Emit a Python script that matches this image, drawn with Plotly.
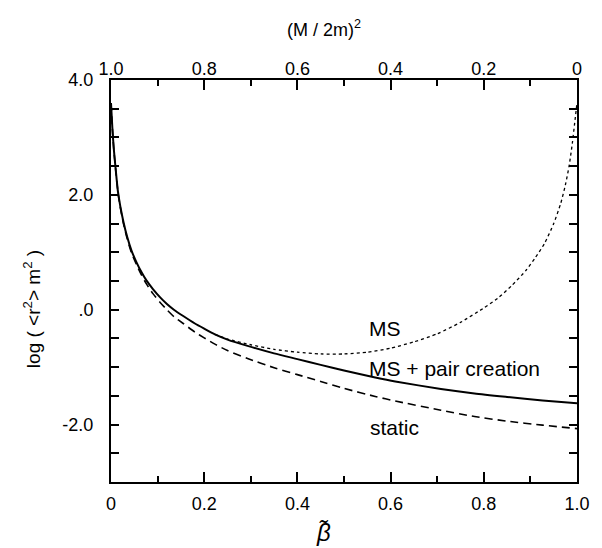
import plotly.graph_objects as go

# MS + pair creation (solid)
beta_pair = [0, 0.003, 0.006, 0.01, 0.015, 0.02, 0.027, 0.035, 0.044, 0.055, 0.065, 0.076, 0.09,
             0.105, 0.12, 0.135, 0.155, 0.18, 0.2, 0.223, 0.25, 0.293, 0.35, 0.4, 0.45, 0.5,
             0.567, 0.61, 0.708, 0.78, 0.85, 0.926, 1.0]
logr_pair = [3.6, 3.15, 2.8, 2.45, 2.05, 1.8, 1.52, 1.26, 1.03, 0.82, 0.66, 0.51, 0.36,
             0.22, 0.10, 0.0, -0.11, -0.24, -0.33, -0.43, -0.52, -0.63, -0.76, -0.86, -0.96, -1.06,
             -1.18, -1.25, -1.38, -1.46, -1.52, -1.58, -1.63]

# static (dashed)
beta_static = [0, 0.003, 0.006, 0.01, 0.015, 0.02, 0.027, 0.035, 0.044, 0.055, 0.065, 0.076, 0.09,
               0.105, 0.12, 0.135, 0.155, 0.18, 0.2, 0.223, 0.25, 0.293, 0.35, 0.4, 0.45, 0.5,
               0.567, 0.61, 0.708, 0.78, 0.85, 0.926, 1.0]
logr_static = [3.6, 3.15, 2.79, 2.44, 2.04, 1.78, 1.49, 1.23, 0.99, 0.78, 0.61, 0.45, 0.28,
               0.13, 0.0, -0.12, -0.24, -0.39, -0.49, -0.60, -0.71, -0.85, -1.01, -1.13, -1.25, -1.37,
               -1.51, -1.59, -1.75, -1.86, -1.94, -2.01, -2.07]

# MS (dotted)
beta_ms = [0.223, 0.25, 0.3, 0.35, 0.4, 0.45, 0.5, 0.55, 0.6, 0.65, 0.7, 0.75, 0.8, 0.83,
           0.86, 0.89, 0.91, 0.93, 0.95, 0.965, 0.975, 0.983, 0.99, 0.995, 1.0]
logr_ms = [-0.43, -0.51, -0.61, -0.69, -0.74, -0.77, -0.77, -0.74, -0.67, -0.56, -0.42, -0.22,
           0.03, 0.2, 0.42, 0.68, 0.9, 1.15, 1.5, 1.85, 2.17, 2.5, 2.9, 3.25, 3.6]

x_tick_vals = [0, 0.2, 0.4, 0.6, 0.8, 1.0]
x_tick_text = ["0", "0.2", "0.4", "0.6", "0.8", "1.0"]
top_tick_vals = [1.0, 0.8, 0.6, 0.4, 0.2, 0]
top_tick_text = ["1.0", "0.8", "0.6", "0.4", "0.2", "0"]
y_tick_vals = [-2, 0, 2, 4]
y_tick_text = ["-2.0", ".0", "2.0", "4.0"]

labels = ["MS", "MS + pair creation", "static"]
label_x = [0.55, 0.55, 0.552]
label_y = [-0.32, -1.02, -2.05]

FONT = "Liberation Sans"
fig = go.Figure()
fig.add_trace(go.Scatter(x=beta_ms, y=logr_ms, mode="lines",
                         line=dict(color="black", width=1.3, dash="dot", shape="spline", smoothing=0.6),
                         showlegend=False))
fig.add_trace(go.Scatter(x=beta_static, y=logr_static, mode="lines",
                         line=dict(color="black", width=1.6, dash="8px,5px", shape="spline", smoothing=0.6),
                         showlegend=False))
fig.add_trace(go.Scatter(x=beta_pair, y=logr_pair, mode="lines",
                         line=dict(color="black", width=2, shape="spline", smoothing=0.6),
                         showlegend=False))
# invisible trace to anchor the top axis
fig.add_trace(go.Scatter(x=[1.0, 0.0], y=[None, None], xaxis="x2", mode="lines",
                         showlegend=False, hoverinfo="skip"))

for t, xx, yy in zip(labels, label_x, label_y):
    fig.add_annotation(x=xx, y=yy, text=t, showarrow=False, xanchor="left", yanchor="middle",
                       font=dict(family=FONT, size=21, color="black"))

# the page body has an 8px margin; the figure is sized so that it fits the window
fig.update_layout(
    width=594, height=540,
    margin=dict(l=103, r=17, t=72, b=66),
    plot_bgcolor="white", paper_bgcolor="white",
    font=dict(family=FONT, size=18, color="black"),
    xaxis=dict(range=[0, 1], tickvals=x_tick_vals, ticktext=x_tick_text, ticks="inside", ticklen=10,
               tickwidth=1.5, tickcolor="black", showline=True, linecolor="black", linewidth=2,
               mirror="ticks", showgrid=False, zeroline=False, ticklabelstandoff=4,
               minor=dict(dtick=0.1, ticks="inside", ticklen=6, tickwidth=1.5, tickcolor="black",
                          showgrid=False)),
    xaxis2=dict(range=[1, 0], overlaying="x", side="top", tickvals=top_tick_vals,
                ticktext=top_tick_text, ticks="", showline=False, showgrid=False, zeroline=False),
    yaxis=dict(range=[-3, 4], tickvals=y_tick_vals, ticktext=y_tick_text, ticks="inside", ticklen=8,
               tickwidth=1.5, tickcolor="black", showline=True, linecolor="black", linewidth=2,
               mirror="ticks", showgrid=False, zeroline=False, ticklabelstandoff=12,
               minor=dict(dtick=0.5, ticks="inside", ticklen=8, tickwidth=1.5, tickcolor="black",
                          showgrid=False)),
)

fig.add_annotation(xref="paper", yref="paper", x=0.458, y=1, yshift=52, xanchor="center", yanchor="middle",
                   text="(M / 2m)<sup>2</sup>", showarrow=False, font=dict(family=FONT, size=18))
fig.add_annotation(xref="paper", yref="paper", x=0.455, y=0, yshift=-50, xanchor="center", yanchor="middle",
                   text="<i>β̃</i>", showarrow=False, font=dict(family=FONT, size=24))
fig.add_annotation(xref="paper", yref="paper", x=0, y=0.43, xshift=-79, xanchor="center", yanchor="middle",
                   text="log ( &lt;r<sup>2</sup>&gt; m<sup>2</sup> )", textangle=-90, showarrow=False,
                   font=dict(family=FONT, size=19))

fig.write_html("out.html")
